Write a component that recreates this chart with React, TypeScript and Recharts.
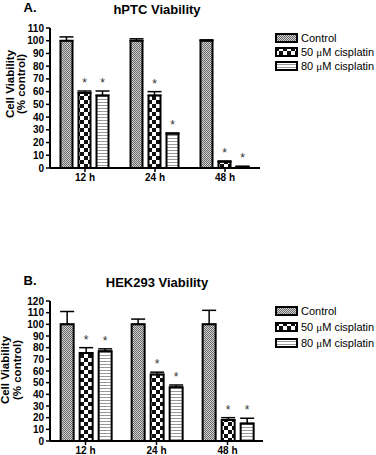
import React from "react";
import { BarChart, Bar, XAxis, YAxis, ErrorBar, LabelList } from "recharts";

const TIMEPOINTS = ["12 h", "24 h", "48 h"];

// hPTC (panel A)
const HPTC_CONTROL = [100, 100, 100];
const HPTC_CONTROL_ERR = [3, 1.5, 0.7];
const HPTC_CIS50 = [59, 57, 5];
const HPTC_CIS50_ERR = [1.5, 3, 0.5];
const HPTC_CIS80 = [57, 27, 1];
const HPTC_CIS80_ERR = [3.5, 0.5, 0.3];
const HPTC_TICKS = [0, 10, 20, 30, 40, 50, 60, 70, 80, 90, 100, 110];

// HEK293 (panel B)
const HEK_CONTROL = [100, 100, 100];
const HEK_CONTROL_ERR = [11, 4.5, 12];
const HEK_CIS50 = [75.5, 57, 18];
const HEK_CIS50_ERR = [4.5, 2, 2];
const HEK_CIS80 = [77, 46, 15];
const HEK_CIS80_ERR = [2, 2, 4.5];
const HEK_TICKS = [0, 10, 20, 30, 40, 50, 60, 70, 80, 90, 100, 110, 120];

// significance (* above cisplatin bars)
const SIG_CIS50 = [true, true, true];
const SIG_CIS80 = [true, true, true];

const FONT = '"Liberation Sans", Arial, Helvetica, sans-serif';

const buildRows = (
  c: number[], cErr: number[],
  a: number[], aErr: number[],
  b: number[], bErr: number[]
) =>
  TIMEPOINTS.map((t, i) => ({
    time: t,
    control: c[i],
    controlErr: [0, cErr[i]],
    cis50: a[i],
    cis50Err: [0, aErr[i]],
    cis50Star: SIG_CIS50[i] ? aErr[i] : null,
    cis80: b[i],
    cis80Err: [0, bErr[i]],
    cis80Star: SIG_CIS80[i] ? bErr[i] : null,
  }));

const hptcRows = buildRows(HPTC_CONTROL, HPTC_CONTROL_ERR, HPTC_CIS50, HPTC_CIS50_ERR, HPTC_CIS80, HPTC_CIS80_ERR);
const hekRows = buildRows(HEK_CONTROL, HEK_CONTROL_ERR, HEK_CIS50, HEK_CIS50_ERR, HEK_CIS80, HEK_CIS80_ERR);

const Patterns = () => (
  <svg width={0} height={0} style={{ position: "absolute" }}>
    <defs>
      <pattern id="patControl" patternUnits="userSpaceOnUse" width={2} height={2}>
        <rect width={2} height={2} fill="#d0d0d0" />
        <rect x={0} y={0} width={1} height={1} fill="#6a6a6a" />
        <rect x={1} y={1} width={1} height={1} fill="#6a6a6a" />
      </pattern>
      <pattern id="patCis50" patternUnits="userSpaceOnUse" width={8} height={8}>
        <rect width={8} height={8} fill="#fff" />
        <rect x={0} y={0} width={4} height={4} fill="#111" />
        <rect x={4} y={4} width={4} height={4} fill="#111" />
      </pattern>
      <pattern id="patCis80" patternUnits="userSpaceOnUse" width={3} height={3}>
        <rect width={3} height={3} fill="#fff" />
        <rect x={0} y={0} width={3} height={1} fill="#999" />
      </pattern>
    </defs>
  </svg>
);

const Star = (props: any) => {
  const { x, y, width, height, value, index, rows, valueKey } = props;
  if (value == null) return null;
  const v = rows[index][valueKey];
  const pxPerUnit = v ? height / v : 0;
  const top = y - value * pxPerUnit;
  return (
    <text x={x + width / 2} y={top - 4} textAnchor="middle" fontSize={12} fill="#333" fontFamily={FONT}>
      *
    </text>
  );
};

const Mu = () => <span style={{ fontFamily: '"Liberation Serif", serif' }}>μ</span>;

const LegendBox = ({ top, rowHeight }: { top: number; rowHeight: number }) => {
  const items = [
    { fill: "url(#patControl)", label: <>Control</> },
    { fill: "url(#patCis50)", label: <>50 <Mu />M cisplatin</> },
    { fill: "url(#patCis80)", label: <>80 <Mu />M cisplatin</> },
  ];
  return (
    <div style={{ position: "absolute", left: 275, top, fontFamily: FONT, fontSize: 11, whiteSpace: "nowrap" }}>
      {items.map((it, i) => (
        <div key={i} style={{ display: "flex", alignItems: "center", height: rowHeight }}>
          <svg width={24} height={10} style={{ marginRight: 2 }}>
            <rect x={1} y={1} width={21} height={8} fill={it.fill} stroke="#000" strokeWidth={2} />
          </svg>
          <span>{it.label}</span>
        </div>
      ))}
    </div>
  );
};

interface PanelProps {
  rows: ReturnType<typeof buildRows>;
  ticks: number[];
  height: number;
  margin: { top: number; right: number; left: number; bottom: number };
}

const Panel = ({ rows, ticks, height, margin }: PanelProps) => {
  const max = ticks[ticks.length - 1];
  const tickStyle = { fill: "#000", fontSize: 10, fontWeight: "bold", fontFamily: FONT };
  return (
    <BarChart width={376} height={height} data={rows} margin={margin} barCategoryGap="15%" barGap={6}>
      <XAxis
        dataKey="time"
        height={20}
        tick={tickStyle}
        tickSize={4}
        axisLine={{ stroke: "#000", strokeWidth: 2 }}
        tickLine={{ stroke: "#000", strokeWidth: 1.5 }}
      />
      <YAxis
        width={30}
        domain={[0, max]}
        ticks={ticks}
        interval={0}
        tick={tickStyle}
        tickSize={4}
        axisLine={{ stroke: "#000", strokeWidth: 2 }}
        tickLine={{ stroke: "#000", strokeWidth: 1.5 }}
      />
      <Bar dataKey="control" fill="url(#patControl)" stroke="#000" strokeWidth={2} isAnimationActive={false}>
        <ErrorBar dataKey="controlErr" width={7} stroke="#000" strokeWidth={1.5} direction="y" />
      </Bar>
      <Bar dataKey="cis50" fill="url(#patCis50)" stroke="#000" strokeWidth={2} isAnimationActive={false}>
        <ErrorBar dataKey="cis50Err" width={7} stroke="#000" strokeWidth={1.5} direction="y" />
        <LabelList dataKey="cis50Star" content={(p: any) => <Star {...p} rows={rows} valueKey="cis50" />} />
      </Bar>
      <Bar dataKey="cis80" fill="url(#patCis80)" stroke="#000" strokeWidth={2} isAnimationActive={false}>
        <ErrorBar dataKey="cis80Err" width={7} stroke="#000" strokeWidth={1.5} direction="y" />
        <LabelList dataKey="cis80Star" content={(p: any) => <Star {...p} rows={rows} valueKey="cis80" />} />
      </Bar>
    </BarChart>
  );
};

const YLabel = ({ cx1, cx2, cy }: { cx1: number; cx2: number; cy: number }) => (
  <>
    {[{ t: "Cell Viability", x: cx1 }, { t: "(% control)", x: cx2 }].map((l) => (
      <div
        key={l.t}
        style={{
          position: "absolute", left: l.x, top: cy, transform: "translate(-50%, -50%) rotate(-90deg)",
          fontFamily: FONT, fontWeight: "bold", fontSize: 11.5, whiteSpace: "nowrap",
        }}
      >
        {l.t}
      </div>
    ))}
  </>
);

const Title = ({ text, x, y }: { text: string; x: number; y: number }) => (
  <div style={{ position: "absolute", left: x, top: y, transform: "translate(-50%, -50%)", fontFamily: FONT, fontWeight: "bold", fontSize: 13, whiteSpace: "nowrap" }}>
    {text}
  </div>
);

export default function App() {
  return (
    <div style={{ position: "absolute", left: 0, top: 0, width: 376, height: 455, overflow: "hidden", background: "#fff" }}>
      <Patterns />
      {/* Panel A */}
      <Title text="A." x={30} y={7} />
      <Title text="hPTC Viability" x={157} y={9} />
      <YLabel cx1={9.5} cx2={21} cy={84} />
      <div style={{ position: "absolute", left: 0, top: 0 }}>
        <Panel rows={hptcRows} ticks={HPTC_TICKS} height={200} margin={{ top: 28, right: 116, left: 20, bottom: 12 }} />
      </div>
      <LegendBox top={31.5} rowHeight={13.7} />

      {/* Panel B */}
      <Title text="B." x={30} y={280} />
      <Title text="HEK293 Viability" x={157} y={282} />
      <YLabel cx1={5} cx2={17} cy={370} />
      <div style={{ position: "absolute", left: 0, top: 250 }}>
        <Panel rows={hekRows} ticks={HEK_TICKS} height={215} margin={{ top: 51, right: 113, left: 20, bottom: 4 }} />
      </div>
      <LegendBox top={302.5} rowHeight={16.3} />
    </div>
  );
}
